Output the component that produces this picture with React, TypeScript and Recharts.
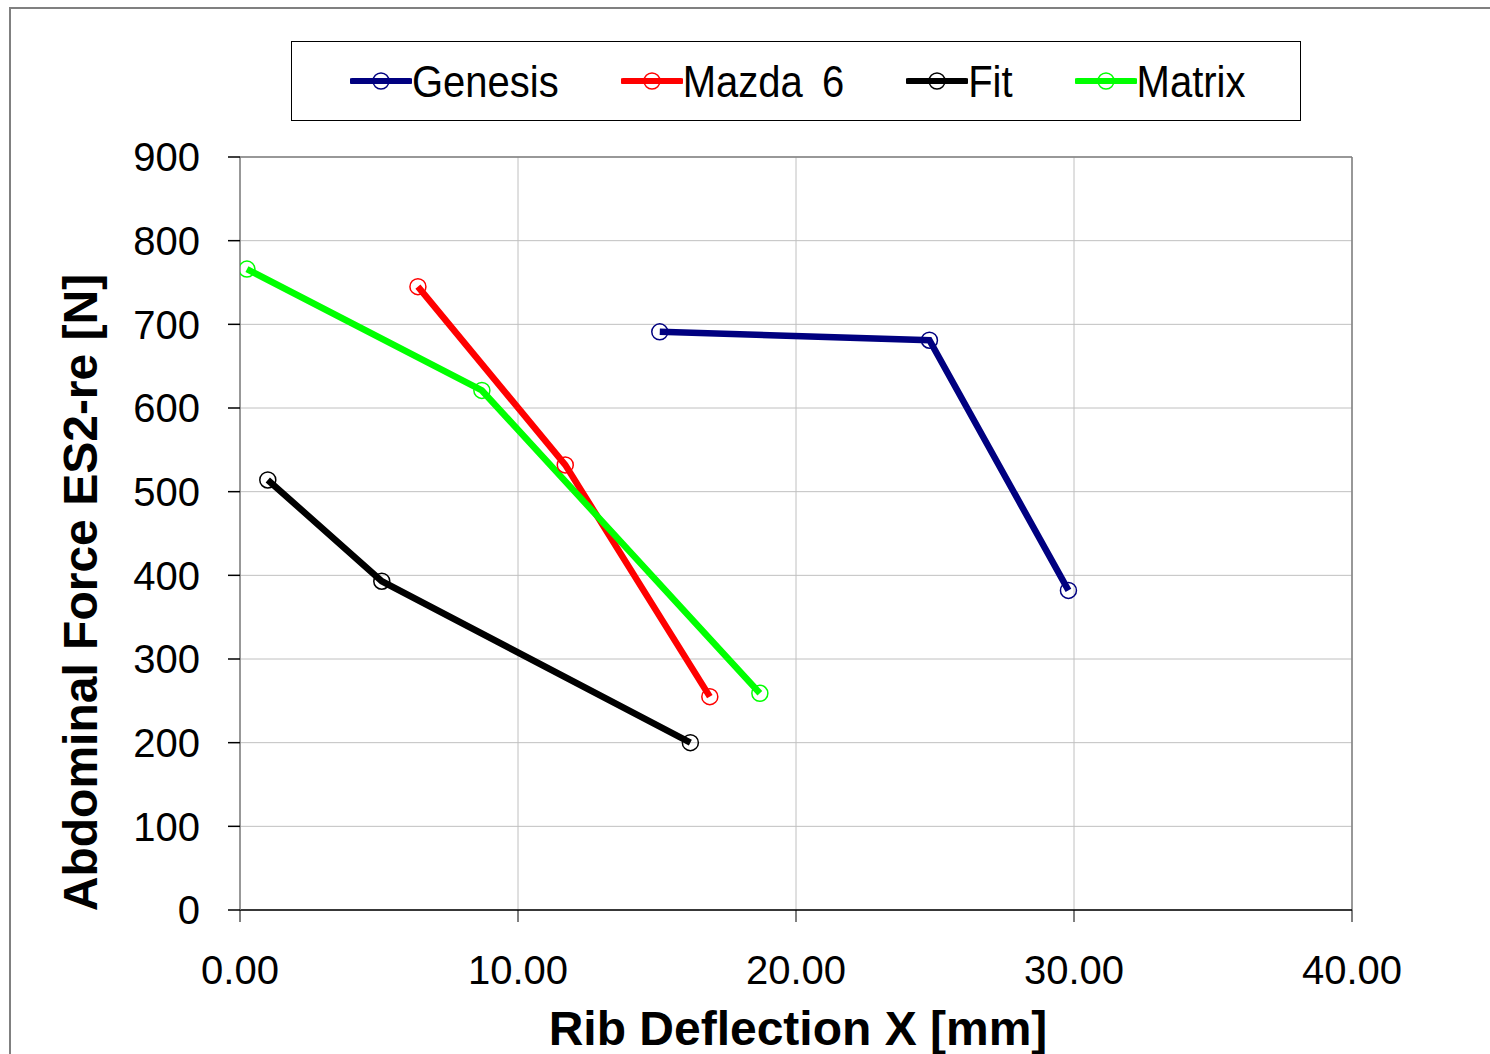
import React from 'react';
import { LineChart, Line, XAxis, YAxis, CartesianGrid, Legend, ReferenceLine } from 'recharts';

// values (x = rib deflection mm, y = force N)
const genesis = [
  { x: 15.1, y: 691 },
  { x: 24.8, y: 681 },
  { x: 29.8, y: 382 },
];
const mazda6 = [
  { x: 6.4, y: 745 },
  { x: 11.7, y: 532 },
  { x: 16.9, y: 255 },
];
const fit = [
  { x: 1.0, y: 514 },
  { x: 5.1, y: 393 },
  { x: 16.2, y: 200 },
];
const matrix = [
  { x: 0.25, y: 766 },
  { x: 8.7, y: 621 },
  { x: 18.7, y: 259 },
];

const xTicks = [0, 10, 20, 30, 40];
const yTicks = [0, 100, 200, 300, 400, 500, 600, 700, 800, 900];

const SERIES = [
  { name: 'Genesis', color: '#000080', data: genesis },
  { name: 'Mazda 6', color: '#ff0000', data: mazda6 },
  { name: 'Fit', color: '#000000', data: fit },
  { name: 'Matrix', color: '#00ff00', data: matrix },
];

const FONT = '"Liberation Sans", Arial, sans-serif';

// legend keeps the series order of the original (recharts sorts payload by name)
const LegendBox: React.FC<any> = () => (
  <div
    style={{
      boxSizing: 'border-box',
      width: '100%',
      height: '100%',
      border: '1px solid #000',
      background: '#fff',
      display: 'flex',
      alignItems: 'center',
      paddingLeft: 58,
      gap: 62,
      fontFamily: FONT,
      fontSize: 40,
    }}
  >
    {SERIES.map((s) => (
      <div key={s.name} style={{ display: 'flex', alignItems: 'center' }}>
        <svg width={62} height={20} style={{ display: 'block' }}>
          <line x1={2} y1={10} x2={60} y2={10} stroke={s.color} strokeWidth={6} strokeLinecap="round" />
          <circle cx={31} cy={10} r={8} fill="none" stroke={s.color} strokeWidth={1.5} />
        </svg>
        <span
          style={{
            color: '#000',
            lineHeight: 1,
            whiteSpace: 'pre',
            display: 'inline-block',
            transform: 'scaleY(1.12)',
            wordSpacing: 8,
          }}
        >
          {s.name}
        </span>
      </div>
    ))}
  </div>
);

const YLabel: React.FC<any> = ({ viewBox }) => {
  const x = viewBox.x - 43;
  const y = viewBox.y + viewBox.height / 2 + 59;
  return (
    <text
      x={x}
      y={y}
      transform={`rotate(-90 ${x} ${y})`}
      textAnchor="middle"
      fontFamily={FONT}
      fontSize={48}
      fontWeight="bold"
      fill="#000"
    >
      Abdominal Force ES2-re [N]
    </text>
  );
};

const XLabel: React.FC<any> = ({ viewBox }) => (
  <text
    x={viewBox.x + viewBox.width / 2 + 2}
    y={viewBox.y + 135}
    textAnchor="middle"
    fontFamily={FONT}
    fontSize={48}
    fontWeight="bold"
    fill="#000"
  >
    Rib Deflection X [mm]
  </text>
);

export default function App() {
  return (
    <div style={{ position: 'absolute', left: 0, top: 0, width: 1490, height: 1054, overflow: 'hidden', background: '#fff' }}>
      <div
        style={{
          position: 'absolute',
          left: 9,
          top: 7,
          width: 1520,
          height: 1100,
          border: '2px solid #808080',
        }}
      />
      <LineChart
        width={1490}
        height={1054}
        margin={{ top: 157, right: 138, bottom: 84, left: 140 }}
        style={{ position: 'absolute', left: 0, top: 0 }}
      >
        <CartesianGrid stroke="#c0c0c0" strokeWidth={1} />
        <XAxis
          type="number"
          dataKey="x"
          domain={[0, 40]}
          ticks={xTicks}
          tickFormatter={(v: number) => v.toFixed(2)}
          height={60}
          tickSize={12}
          tickMargin={34}
          axisLine={{ stroke: '#000', strokeWidth: 1.5 }}
          tickLine={{ stroke: '#000' }}
          tick={{ fill: '#000', fontSize: 40, fontFamily: FONT }}
          label={<XLabel />}
          allowDataOverflow
        />
        <YAxis
          type="number"
          dataKey="y"
          domain={[0, 900]}
          ticks={yTicks}
          width={100}
          tickSize={12}
          tickMargin={28}
          axisLine={{ stroke: '#808080', strokeWidth: 1.5 }}
          tickLine={{ stroke: '#000', strokeWidth: 1.5 }}
          tick={{ fill: '#000', fontSize: 40, fontFamily: FONT }}
          label={<YLabel />}
          allowDataOverflow
        />
        <ReferenceLine y={900} stroke="#808080" strokeWidth={1.5} />
        <ReferenceLine x={40} stroke="#808080" strokeWidth={1.5} />
        <Legend
          layout="horizontal"
          verticalAlign="middle"
          align="center"
          content={<LegendBox />}
          wrapperStyle={{ position: 'absolute', left: 291, top: 41, width: 1010, height: 80 }}
        />
        {SERIES.map((s) => (
          <Line
            key={s.name}
            name={s.name}
            data={s.data}
            dataKey="y"
            type="linear"
            stroke={s.color}
            strokeWidth={6.5}
            dot={{ r: 8, fill: 'none', stroke: s.color, strokeWidth: 1.5 }}
            activeDot={false}
            isAnimationActive={false}
            legendType="line"
          />
        ))}
      </LineChart>
    </div>
  );
}
